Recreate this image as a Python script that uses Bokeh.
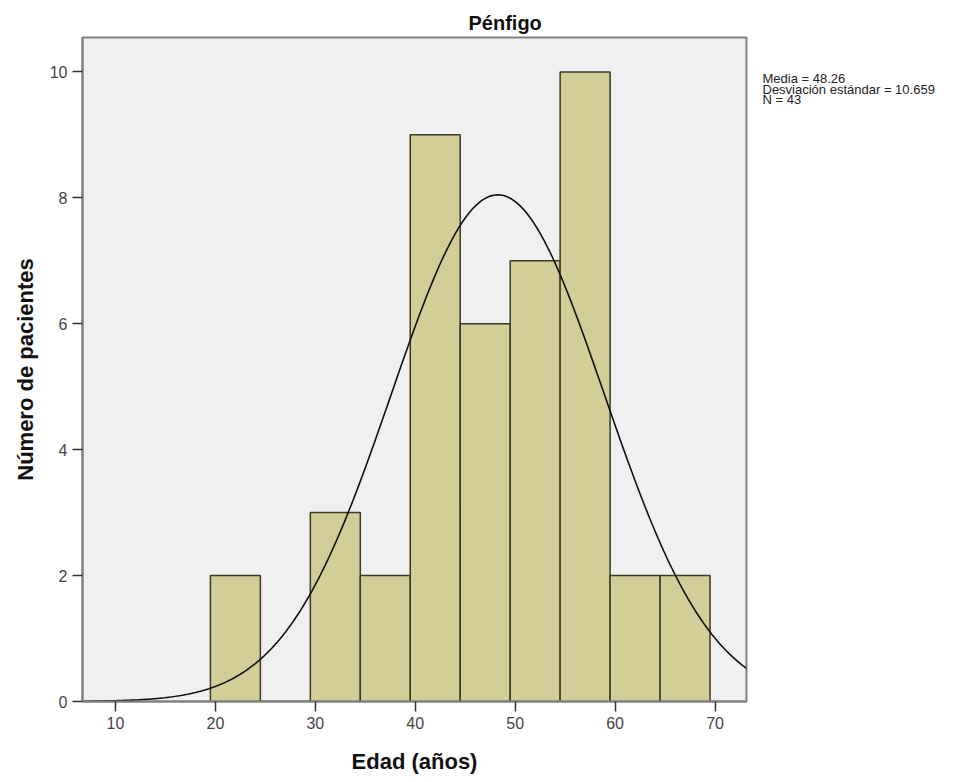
import numpy as np
from bokeh.plotting import figure
from bokeh.layouts import row
from bokeh.models import FixedTicker, Range1d
from bokeh.core.properties import value
from bokeh.embed import file_html
from bokeh.resources import INLINE

# Data
bin_left = [19.5, 24.5, 29.5, 34.5, 39.5, 44.5, 49.5, 54.5, 59.5, 64.5]
bin_width = 5
counts = [2, 0, 3, 2, 9, 6, 7, 10, 2, 2]
mean_age = 48.26
std_age = 10.659
n_total = 43
x_ticks = [10, 20, 30, 40, 50, 60, 70]
y_ticks = [0, 2, 4, 6, 8, 10]
title_text = "Pénfigo"
stats_lines = ["Media = 48.26", "Desviación estándar = 10.659", "N = 43"]

p = figure(width=750, height=780, output_backend="svg", toolbar_location=None,
           x_range=Range1d(6.7, 73.15), y_range=Range1d(0, 10.546),
           frame_width=664, frame_height=664,
           min_border_left=82, min_border_top=37, min_border_right=4, min_border_bottom=79)

p.title.text = title_text
p.title.align = "left"
p.title.offset = 386
p.title.standoff = 7
p.title.text_font = "Liberation Sans"
p.title.text_font_style = "bold"
p.title.text_font_size = "20px"
p.title.text_color = "#111111"

p.background_fill_color = "#f0f0f0"
p.border_fill_color = "white"
p.outline_line_color = "#808080"
p.outline_line_width = 2
p.grid.visible = False

lefts = np.array(bin_left)
p.quad(left=lefts, right=lefts + bin_width, bottom=0, top=counts,
       fill_color="#d3cd97", line_color="#3a3a26", line_width=1.5)

xs = np.linspace(6.7, 73.15, 400)
ys = n_total * bin_width / (std_age * np.sqrt(2 * np.pi)) * np.exp(-0.5 * ((xs - mean_age) / std_age) ** 2)
p.line(xs, ys, line_color="#111111", line_width=1.6)

for ax in (p.xaxis[0], p.yaxis[0]):
    ax.axis_line_color = "#808080"
    ax.axis_line_width = 2
    ax.major_tick_line_color = "#333333"
    ax.major_tick_line_width = 1.5
    ax.major_tick_out = 10
    ax.major_tick_in = 0
    ax.minor_tick_line_color = None
    ax.major_label_text_font = "Liberation Sans"
    ax.major_label_text_font_size = "16px"
    ax.major_label_text_color = "#444444"
    ax.major_label_standoff = 5
    ax.axis_label_text_font = "Liberation Sans"
    ax.axis_label_text_font_style = "bold"
    ax.axis_label_text_font_size = "22px"
    ax.axis_label_text_color = "#111111"

p.xaxis.ticker = FixedTicker(ticks=x_ticks)
p.yaxis.ticker = FixedTicker(ticks=y_ticks)
p.xaxis.axis_label = "Edad (años)"
p.yaxis.axis_label = "Número de pacientes"
p.xaxis.axis_label_standoff = 17
p.yaxis.axis_label_standoff = 9

# Side panel with the statistics text (pixel-like coordinates, y downwards from frame top)
p2 = figure(width=210, height=780, output_backend="svg", toolbar_location=None,
            x_range=Range1d(0, 210), y_range=Range1d(664, 0),
            frame_width=210, frame_height=664,
            min_border_left=0, min_border_right=0, min_border_top=37, min_border_bottom=79,
            x_axis_type=None, y_axis_type=None)
p2.outline_line_color = None
p2.grid.visible = False
p2.background_fill_color = "white"
p2.text(x=[12, 12, 12], y=[41, 51.5, 62], text=stats_lines,
        text_align="left", text_baseline="middle",
        text_font=value("Liberation Sans"), text_font_size=value("13px"),
        text_color="#222222")

layout = row(p, p2)
open("out.html", "w").write(file_html(layout, INLINE))
